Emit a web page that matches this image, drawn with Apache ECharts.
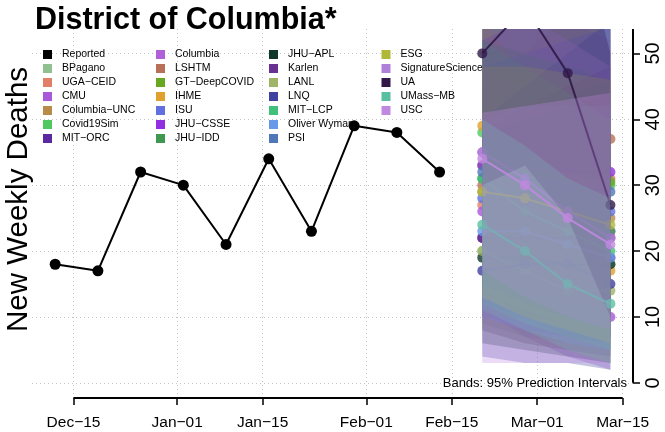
<!DOCTYPE html>
<html><head><meta charset="utf-8">
<script src="https://cdn.jsdelivr.net/npm/echarts@6/dist/echarts.min.js"></script>
<style>html,body{margin:0;padding:0;background:#fff}#c{width:665px;height:432px}</style>
</head><body><div id="c"></div>
<script>
// ---------- data ----------
const reportedDates = ['2020-12-12','2020-12-19','2020-12-26','2021-01-02','2021-01-09','2021-01-16','2021-01-23','2021-01-30','2021-02-06','2021-02-13'];
const reportedDeaths = [18,17,32,30,21,34,23,39,38,32];
const forecastDates = ['2021-02-20','2021-02-27','2021-03-06','2021-03-13'];
const xTickDates = ['2020-12-15','2021-01-01','2021-01-15','2021-02-01','2021-02-15','2021-03-01','2021-03-15'];
const xTickLabels = ['Dec\u221215','Jan\u221201','Jan\u221215','Feb\u221201','Feb\u221215','Mar\u221201','Mar\u221215'];
const yTicks = [0,10,20,30,40,50];
const models = ['BPagano','UGA\u2212CEID','CMU','Columbia\u2212UNC','Covid19Sim','MIT\u2212ORC','Columbia','LSHTM','GT\u2212DeepCOVID','IHME','ISU','JHU\u2212CSSE','JHU\u2212IDD','JHU\u2212APL','Karlen','LANL','LNQ','MIT\u2212LCP','Oliver Wyman','PSI','ESG','SignatureScience','UA','UMass\u2212MB','USC'];
const modelColors = ['#90c090','#e08068','#a858d8','#b88c48','#50c860','#5a28a0','#b060d8','#b87058','#68a820','#e0a030','#6070e0','#9030e0','#409850','#103828','#683090','#a0b468','#4040a0','#40c078','#6898e8','#5078b8','#b0b838','#b080d8','#301848','#58c0a0','#c088e0'];
// point forecasts (model order) for each forecast week
const pointWk1 = [20,27,26,29,38,22,35,30,33,39,28,33,31,19,22,20,17,31,23,32,29,35,50,24,34];
const pointWk2 = [19,28,20,27,36,21,31,32,32,31,27,33,28,19,22,17,18,26,23,31,28,31,57,20,30];
const pointWk3 = [19,30,15,26,33,20,27,35,31,24,27,32,25,18,22,14,18,23,21,30,26,26,47,15,25];
const pointWk4 = [18,31,10,25,30,19,23,37,30.5,17,26,32,23,18,22,14,15,20,19,29,24,22,27,12,21];
// 95% prediction interval bounds
const lowWk1 = [9,12,11,14,20,8,15,10,15,25,12,16,14,6,10,8,4,12,10,15,13,17,30,11,3];
const lowWk2 = [7,10,7,10,16,6,12,10,13,18,10,14,11,5,8,6,3,9,8,12,10,13,33,8,3];
const lowWk3 = [6,9,4,7,13,5,9,9,11,12,8,12,9,4,7,5,3,7,6,10,8,10,25,5,3];
const lowWk4 = [5,8,2,5,10,4,7,9,10,8,7,11,7,3,6,3,2,5,5,8,6,8,10,3,3];
const highWk1 = [33,45,48,45,58,40,60,60,55,55,48,52,52,38,38,34,40,52,40,55,48,60,75,40,41];
const highWk2 = [34,50,44,42,58,42,58,66,56,47,50,55,50,40,42,33,45,48,42,58,48,56,85,36,42];
const highWk3 = [35,56,40,38,57,44,55,72,57,39,52,58,48,42,45,32,50,44,42,62,47,52,75,31,43];
const highWk4 = [36,60,36,34,55,46,52,78,58,30,54,60,46,44,48,30,55,40,42,66,46,48,50,28,44];

// ---------- build ----------
const FONT = '"Liberation Sans", Arial, Helvetica, sans-serif';
const origin = Date.UTC(2020, 11, 15);
function dayNum(s){ const p = s.split('-').map(Number); return (Date.UTC(p[0], p[1]-1, p[2]) - origin) / 86400000; }
const xTicks = xTickDates.map(dayNum);
const fX = forecastDates.map(dayNum);
const pointWeeks = [pointWk1, pointWk2, pointWk3, pointWk4];
const lowWeeks = [lowWk1, lowWk2, lowWk3, lowWk4];
const highWeeks = [highWk1, highWk2, highWk3, highWk4];
function rgba(hex, a){ const n = parseInt(hex.slice(1), 16); return 'rgba(' + (n>>16&255) + ',' + (n>>8&255) + ',' + (n&255) + ',' + a + ')'; }

const series = [];
models.forEach((m, i) => {
  const data = fX.map((x, k) => [x, lowWeeks[k][i], highWeeks[k][i]]);
  series.push({
    type: 'custom', name: m + ' band', coordinateSystem: 'cartesian2d', clip: true, silent: true, z: 2 + 2 * i,
    data: data, encode: { x: 0, y: [1, 2] },
    renderItem: function (params, api) {
      if (params.dataIndex !== 0) return null;
      const up = data.map(d => api.coord([d[0], d[2]]));
      const lo = data.map(d => api.coord([d[0], d[1]])).reverse();
      return { type: 'polygon', shape: { points: up.concat(lo) }, style: { fill: rgba(modelColors[i], 0.3), stroke: null } };
    }
  });
  series.push({
    type: 'line', name: m, z: 3 + 2 * i, silent: true,
    data: fX.map((x, k) => [x, pointWeeks[k][i]]),
    symbol: 'circle', symbolSize: 10,
    lineStyle: { color: modelColors[i], width: 2, opacity: 0.9 },
    itemStyle: { color: modelColors[i], opacity: 0.8 }
  });
});
series.push({
  type: 'line', name: 'Reported', z: 60, silent: true,
  data: reportedDates.map((d, k) => [dayNum(d), reportedDeaths[k]]),
  symbol: 'circle', symbolSize: 11,
  lineStyle: { color: '#000', width: 2 }, itemStyle: { color: '#000' }
});

const legendNames = [['Reported'].concat(models.slice(0, 6)), models.slice(6, 13), models.slice(13, 20), models.slice(20)];
const legendLeft = [43, 156, 269, 381.5];
const legends = legendNames.map((names, c) => ({
  orient: 'vertical', left: legendLeft[c], top: 47.5, padding: 0, itemGap: 0,
  itemWidth: 9, itemHeight: 9, icon: 'rect', selectedMode: false,
  textStyle: { fontSize: 10.5, lineHeight: 14, color: '#000', fontFamily: FONT, padding: [0, 0, 0, 5] },
  data: names.map(n => ({ name: n, itemStyle: { color: n === 'Reported' ? '#000' : modelColors[models.indexOf(n)], opacity: 1 } }))
}));

const grid = { left: 32, right: 32, top: 29, bottom: 34, containLabel: false };
const XMIN = -6.8, XMAX = 91.7, YMIN = -2.3, YMAX = 53.7;
const gridLine = { show: true, lineStyle: { color: '#c4c4c4', width: 1, type: [1, 3] } };

const chart = echarts.init(document.getElementById('c'), null, { renderer: 'canvas' });
chart.setOption({
  animation: false,
  backgroundColor: '#fff',
  grid: grid,
  legend: legends,
  xAxis: {
    type: 'value', min: XMIN, max: XMAX,
    axisLine: { show: false, onZero: false },
    axisTick: { show: true, customValues: xTicks, length: 7, lineStyle: { color: '#000', width: 1.5 } },
    axisLabel: { customValues: xTicks, formatter: v => xTickLabels[xTicks.indexOf(v)] || '', margin: 17, fontSize: 15.5, color: '#000', fontFamily: FONT },
    splitLine: gridLine
  },
  yAxis: {
    type: 'value', position: 'right', min: YMIN, max: YMAX,
    axisLine: { show: false, onZero: false },
    axisTick: { show: true, customValues: yTicks, length: 7, lineStyle: { color: '#000', width: 1.5 } },
    axisLabel: { customValues: yTicks, rotate: 90, margin: 10, fontSize: 20, color: '#000', fontFamily: FONT },
    splitLine: gridLine
  },
  series: series
});

const pA = chart.convertToPixel({ gridIndex: 0 }, [xTicks[0], YMIN]);
const pB = chart.convertToPixel({ gridIndex: 0 }, [xTicks[xTicks.length - 1], YMIN]);
const pC = chart.convertToPixel({ gridIndex: 0 }, [XMAX, yTicks[0]]);
const pD = chart.convertToPixel({ gridIndex: 0 }, [XMAX, YMAX]);
chart.setOption({
  graphic: [
    { type: 'line', shape: { x1: pA[0], y1: pA[1], x2: pB[0], y2: pB[1] }, style: { stroke: '#000', lineWidth: 2 }, z: 100 },
    { type: 'line', shape: { x1: pC[0], y1: pC[1], x2: pD[0], y2: pD[1] }, style: { stroke: '#000', lineWidth: 2 }, z: 100 },
    { type: 'text', left: 35, top: 5, style: { text: 'District of Columbia*', font: 'bold 30.5px ' + FONT, fill: '#000' }, z: 100 },
    { type: 'text', x: 34, y: 332, rotation: Math.PI / 2, style: { text: 'New Weekly Deaths', font: '29.5px ' + FONT, fill: '#000', textAlign: 'left', textVerticalAlign: 'bottom' }, z: 100 },
    { type: 'text', x: 627, y: 383, style: { text: 'Bands: 95% Prediction Intervals', font: '13px ' + FONT, fill: '#000', textAlign: 'right', textVerticalAlign: 'middle' }, z: 100 }
  ]
});
</script>
</body></html>
